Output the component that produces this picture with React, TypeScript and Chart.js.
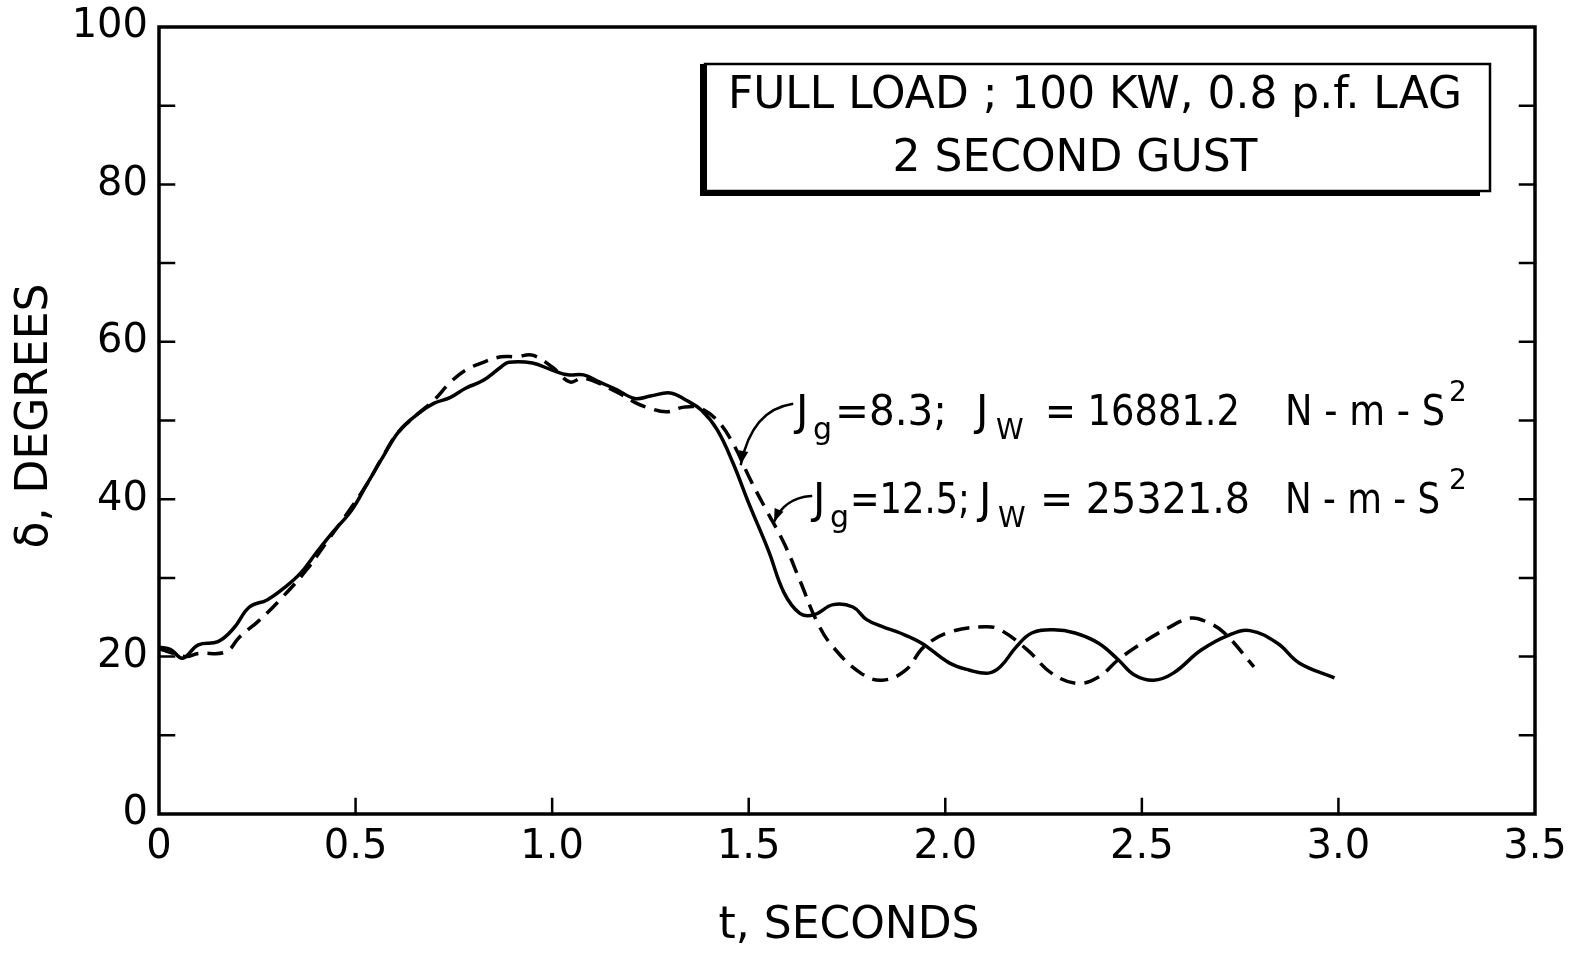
import React, { useEffect, useRef } from 'react';
import { Chart, registerables } from 'chart.js';
Chart.register(...registerables);

// ---- data (t in seconds, delta in degrees) ----
const solidT = [0.0, 0.03, 0.06, 0.10, 0.15, 0.19, 0.23, 0.275, 0.32, 0.36, 0.40, 0.44, 0.49, 0.53, 0.57, 0.61, 0.66, 0.70, 0.74, 0.78, 0.825, 0.87, 0.89, 0.95, 1.00, 1.04, 1.08, 1.12, 1.165, 1.21, 1.25, 1.30, 1.34, 1.38, 1.42, 1.46, 1.50, 1.55, 1.59, 1.63, 1.665, 1.715, 1.765, 1.80, 1.84, 1.885, 1.94, 2.01, 2.06, 2.11, 2.14, 2.18, 2.22, 2.275, 2.33, 2.39, 2.44, 2.48, 2.53, 2.58, 2.65, 2.72, 2.775, 2.845, 2.90, 2.99];
const solidV = [21.2, 20.9, 19.8, 21.5, 21.9, 23.6, 26.3, 27.2, 28.8, 30.6, 33.2, 35.7, 38.6, 42.0, 45.4, 48.6, 50.9, 52.2, 52.9, 54.1, 55.1, 56.8, 57.4, 57.3, 56.4, 55.8, 55.8, 54.9, 53.9, 52.8, 53.1, 53.5, 52.6, 51.3, 48.8, 44.6, 39.5, 33.5, 28.1, 25.5, 25.3, 26.6, 26.3, 24.7, 23.8, 23.0, 21.7, 19.2, 18.3, 17.9, 18.7, 21.2, 23.0, 23.4, 23.0, 21.7, 19.6, 17.7, 17.0, 17.9, 20.8, 22.7, 23.3, 21.7, 19.2, 17.3];

const dashT = [0.0, 0.05, 0.07, 0.10, 0.17, 0.205, 0.255, 0.315, 0.375, 0.43, 0.49, 0.53, 0.57, 0.61, 0.66, 0.70, 0.74, 0.78, 0.825, 0.87, 0.91, 0.95, 1.00, 1.045, 1.08, 1.165, 1.21, 1.24, 1.29, 1.335, 1.375, 1.42, 1.46, 1.505, 1.545, 1.59, 1.63, 1.675, 1.715, 1.785, 1.84, 1.90, 1.945, 2.01, 2.10, 2.14, 2.21, 2.27, 2.335, 2.39, 2.44, 2.50, 2.565, 2.625, 2.665, 2.71, 2.785];
const dashV = [21.0, 20.2, 20.0, 20.4, 20.6, 22.5, 24.6, 27.6, 31.0, 34.8, 39.0, 42.0, 45.5, 48.6, 50.9, 52.6, 54.8, 56.4, 57.4, 58.1, 58.1, 58.3, 56.8, 54.9, 55.4, 53.6, 52.3, 51.7, 51.1, 51.7, 51.6, 50.0, 47.1, 42.4, 38.6, 34.4, 29.7, 24.3, 21.2, 17.9, 17.0, 18.3, 21.2, 23.1, 23.8, 23.4, 20.8, 17.9, 16.6, 17.4, 19.6, 21.7, 23.6, 24.9, 24.4, 23.0, 18.7];

const seriesLabels = ['Jg = 8.3; Jw = 16881.2 N-m-S²', 'Jg = 12.5; Jw = 25321.8 N-m-S²'];
const titleLines = ['FULL LOAD ; 100 KW, 0.8 p.f. LAG', '2 SECOND GUST'];
const xTitle = 't, SECONDS';
const yTitle = 'δ, DEGREES';
const xStep = 0.5;
const yStep = 10;
const yLabelStep = 20;

const FONT = '"DejaVu Sans", sans-serif';

type Part = { t: string; x: number; dy: number; size: number; mw?: number };
const annot1: Part[] = [
  { t: 'J', x: 796, dy: 0, size: 42 },
  { t: 'g', x: 813, dy: 14, size: 30 },
  { t: '=8.3;', x: 835, dy: 0, size: 42, mw: 112 },
  { t: 'J', x: 976, dy: 0, size: 42 },
  { t: 'W', x: 996, dy: 14, size: 28, mw: 34 },
  { t: '= 16881.2', x: 1045, dy: 0, size: 42, mw: 195 },
  { t: 'N - m - S', x: 1285, dy: 0, size: 42, mw: 160 },
  { t: '2', x: 1449, dy: -24, size: 28 },
];
const annot2: Part[] = [
  { t: 'J', x: 813, dy: 0, size: 42 },
  { t: 'g', x: 830, dy: 14, size: 30 },
  { t: '=12.5;', x: 850, dy: 0, size: 42, mw: 120 },
  { t: 'J', x: 979, dy: 0, size: 42 },
  { t: 'W', x: 998, dy: 14, size: 28, mw: 36 },
  { t: '= 25321.8', x: 1040, dy: 0, size: 42, mw: 210 },
  { t: 'N - m - S', x: 1285, dy: 0, size: 42, mw: 155 },
  { t: '2', x: 1449, dy: -24, size: 28 },
];

const decor = {
  id: 'decor',
  afterDraw(chart: any) {
    const ctx = chart.ctx;
    const { left, right, top, bottom } = chart.chartArea;
    const xs = chart.scales.x;
    const ys = chart.scales.y;
    ctx.save();
    ctx.strokeStyle = '#000';
    ctx.fillStyle = '#000';
    ctx.lineCap = 'square';
    // frame
    ctx.lineWidth = 3.5;
    ctx.strokeRect(left, top, right - left, bottom - top);
    // inner ticks
    ctx.lineWidth = 2.5;
    ctx.beginPath();
    for (let v = yStep; v < 100; v += yStep) {
      const y = ys.getPixelForValue(v);
      ctx.moveTo(left, y); ctx.lineTo(left + 15, y);
      ctx.moveTo(right, y); ctx.lineTo(right - 15, y);
    }
    for (let t = xStep; t < 3.5; t += xStep) {
      const x = xs.getPixelForValue(t);
      ctx.moveTo(x, bottom); ctx.lineTo(x, bottom - 15);
    }
    ctx.stroke();

    // title box
    ctx.lineWidth = 2.5;
    ctx.strokeRect(705, 64, 1490 - 705, 191 - 64);
    ctx.fillRect(700, 64, 7, 132);
    ctx.fillRect(700, 190, 780, 6);
    ctx.textAlign = 'center';
    ctx.textBaseline = 'alphabetic';
    ctx.font = `44px ${FONT}`;
    ctx.fillText(titleLines[0], 1095, 108, 734);
    ctx.fillText(titleLines[1], 1075, 171, 380);

    // axis titles
    ctx.font = `44px ${FONT}`;
    ctx.textBaseline = 'middle';
    ctx.fillText(xTitle, 849, 927, 275);
    ctx.save();
    ctx.translate(36, 416);
    ctx.rotate(-Math.PI / 2);
    ctx.fillText(yTitle, 0, 0, 282);
    ctx.restore();

    // annotations
    ctx.textAlign = 'left';
    ctx.textBaseline = 'alphabetic';
    const drawParts = (parts: Part[], base: number) => {
      for (const p of parts) {
        ctx.font = `${p.size}px ${FONT}`;
        if (p.mw) ctx.fillText(p.t, p.x, base + p.dy, p.mw);
        else ctx.fillText(p.t, p.x, base + p.dy);
      }
    };
    drawParts(annot1, 425);
    drawParts(annot2, 513);

    // arrows
    const arrow = (sx: number, sy: number, cx: number, cy: number, tx: number, ty: number) => {
      ctx.lineWidth = 2.5;
      ctx.beginPath();
      ctx.moveTo(sx, sy);
      ctx.quadraticCurveTo(cx, cy, tx, ty);
      ctx.stroke();
      const a = Math.atan2(ty - cy, tx - cx);
      const L = 14, w = 0.35;
      ctx.beginPath();
      ctx.moveTo(tx, ty);
      ctx.lineTo(tx - L * Math.cos(a - w), ty - L * Math.sin(a - w));
      ctx.lineTo(tx - L * Math.cos(a + w), ty - L * Math.sin(a + w));
      ctx.closePath();
      ctx.fill();
    };
    arrow(792, 404, 752, 410, 741, 464);
    arrow(811, 496, 784, 498, 774, 522);
    ctx.restore();
  },
};

export default function App() {
  const ref = useRef<HTMLCanvasElement>(null);
  useEffect(() => {
    if (!ref.current) return;
    const tickFont = { family: FONT, size: 40 };
    const chart = new Chart(ref.current, {
      type: 'line',
      data: {
        datasets: [
          {
            label: seriesLabels[0],
            data: solidT.map((t, i) => ({ x: t, y: solidV[i] })),
            borderColor: '#000',
            borderWidth: 3.5,
            pointRadius: 0,
            tension: 0.4,
            fill: false,
          },
          {
            label: seriesLabels[1],
            data: dashT.map((t, i) => ({ x: t, y: dashV[i] })),
            borderColor: '#000',
            borderWidth: 3.5,
            borderDash: [16, 9],
            pointRadius: 0,
            tension: 0.4,
            fill: false,
          },
        ],
      },
      options: {
        animation: false,
        responsive: false,
        maintainAspectRatio: false,
        layout: { padding: { top: 27, left: 0, right: 0, bottom: 0 } },
        plugins: { legend: { display: false }, tooltip: { enabled: false }, title: { display: false } },
        scales: {
          x: {
            type: 'linear',
            min: 0,
            max: 3.5,
            position: 'bottom',
            ticks: {
              stepSize: xStep,
              autoSkip: false,
              maxRotation: 0,
              color: '#000',
              font: tickFont,
              padding: 10,
              callback: (v: any) => (Number(v) === 0 ? '0' : Number(v).toFixed(1)),
            },
            grid: { display: false, drawTicks: false },
            border: { display: false },
            afterFit: (s: any) => { s.height = 141; s.paddingLeft = 0; s.paddingRight = 0; },
          },
          y: {
            type: 'linear',
            min: 0,
            max: 100,
            position: 'left',
            ticks: {
              stepSize: yStep,
              color: '#000',
              font: tickFont,
              padding: 11,
              callback: (v: any) => (Number(v) % yLabelStep === 0 ? String(v) : ''),
            },
            grid: { display: false, drawTicks: false },
            border: { display: false },
            afterFit: (s: any) => { s.width = 159; s.paddingTop = 0; s.paddingBottom = 0; },
          },
          y2: {
            type: 'linear',
            min: 0,
            max: 100,
            position: 'right',
            ticks: { display: false },
            grid: { display: false, drawTicks: false },
            border: { display: false },
            afterFit: (s: any) => { s.width = 37; s.paddingTop = 0; s.paddingBottom = 0; },
          },
        },
      },
      plugins: [decor],
    });
    return () => chart.destroy();
  }, []);
  return (
    <div style={{ position: 'fixed', left: 0, top: 0, width: 1572, height: 955, background: '#fff' }}>
      <canvas ref={ref} width={1572} height={955} style={{ display: 'block' }} />
    </div>
  );
}
